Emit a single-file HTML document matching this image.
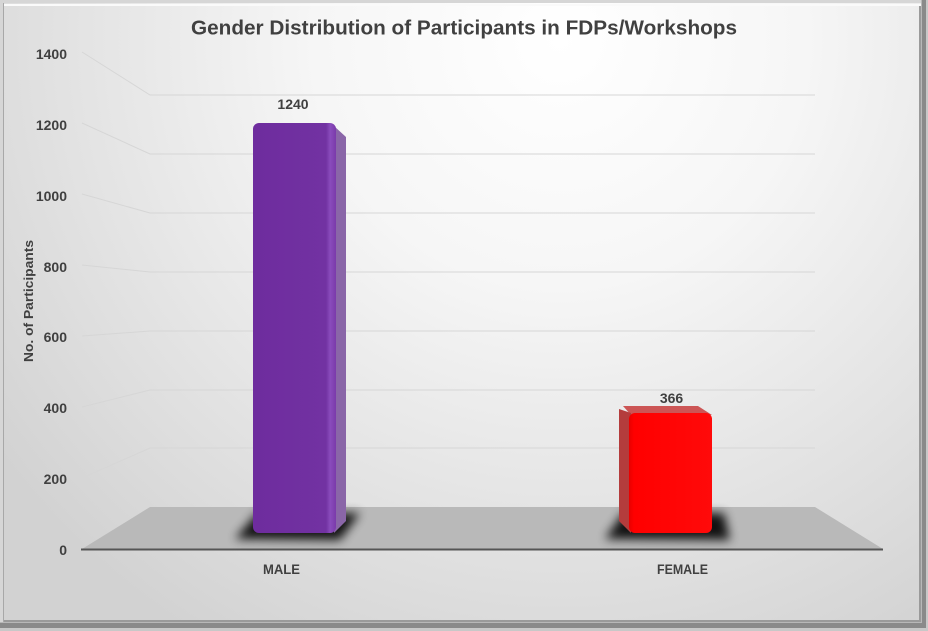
<!DOCTYPE html>
<html>
<head>
<meta charset="utf-8">
<style>
  html,body{margin:0;padding:0;background:#d8d8d8;}
  svg{display:block;}
  text{font-family:"Liberation Sans", Arial, sans-serif;fill:#404040;font-weight:bold;}
</style>
</head>
<body>
<svg width="928" height="631" viewBox="0 0 928 631" xmlns="http://www.w3.org/2000/svg">
  <defs>
    <radialGradient id="bg" cx="560" cy="40" r="700" gradientUnits="userSpaceOnUse">
      <stop offset="0" stop-color="#ffffff"/>
      <stop offset="0.35" stop-color="#f6f6f6"/>
      <stop offset="0.75" stop-color="#e0e0e0"/>
      <stop offset="1" stop-color="#d2d2d2"/>
    </radialGradient>
    <linearGradient id="purpleFront" x1="0" y1="0" x2="1" y2="0">
      <stop offset="0" stop-color="#6e2c9e"/>
      <stop offset="0.88" stop-color="#7232a2"/>
      <stop offset="0.93" stop-color="#8a4cbc"/>
      <stop offset="1" stop-color="#7a3aaa"/>
    </linearGradient>
    <linearGradient id="redFront" x1="0" y1="0" x2="1" y2="0">
      <stop offset="0" stop-color="#e80000"/>
      <stop offset="0.06" stop-color="#ff0000"/>
      <stop offset="1" stop-color="#ff0a0a"/>
    </linearGradient>
    <filter id="blur" x="-30%" y="-80%" width="160%" height="260%">
      <feGaussianBlur stdDeviation="5"/>
    </filter>
  </defs>

  <!-- frame -->
  <rect x="0" y="0" width="928" height="631" fill="#c8c8c8"/>
  <rect x="0" y="0" width="926" height="628" fill="#8a8a8a"/>
  <rect x="0" y="0" width="922" height="623" fill="#b8b8b8"/>
  <rect x="0" y="0" width="921" height="622" fill="#d6d6d6"/>
  <rect x="4" y="3" width="917" height="619" fill="url(#bg)"/>
  <rect x="3" y="3" width="1" height="619" fill="#a8a8a8"/>
  <rect x="4" y="4" width="917" height="2" fill="#fafafa"/>
  <rect x="919" y="6" width="2" height="616" fill="#9a9a9a"/>
  <rect x="4" y="620" width="917" height="2" fill="#9a9a9a"/>

  <!-- gridlines -->
  <g stroke="#d6d6d6" stroke-width="1" fill="none">
    <polyline points="82,52 150,95 815,95"/>
    <polyline points="82,123 150,154 815,154"/>
    <polyline points="82,194 150,213 815,213"/>
    <polyline points="82,265 150,272 815,272"/>
    <polyline points="82,336 150,331 815,331"/>
    <polyline points="82,407 150,390 815,390"/>
    <polyline points="82,478 150,448 815,448"/>
  </g>

  <!-- floor -->
  <polygon points="82,549 150,507 815,507 883,549" fill="#b9b9b9"/>
  <line x1="81" y1="549.5" x2="883" y2="549.5" stroke="#555555" stroke-width="2"/>

  <!-- shadows -->
  <polygon points="235,539 257,513 360,513 340,540" fill="#000" filter="url(#blur)" opacity="0.9"/>
  <polygon points="605,539 623,513 724,513 730,540" fill="#000" filter="url(#blur)" opacity="0.9"/>

  <!-- purple bar -->
  <polygon points="334,126 346,137 346,521 334,533" fill="#8a66a8"/>
  <rect x="253" y="123" width="83" height="410" rx="6" ry="6" fill="url(#purpleFront)"/>

  <!-- red bar -->
  <polygon points="623,406 698,406 712,415 631,415" fill="#cc5555"/>
  <polygon points="619,409 631,413 631,533 619,521" fill="#b43c3c"/>
  <rect x="629" y="413" width="83" height="120" rx="6" ry="6" fill="url(#redFront)"/>

  <!-- y tick labels -->
  <g font-size="14" text-anchor="end">
    <text x="67" y="59">1400</text>
    <text x="67" y="130">1200</text>
    <text x="67" y="201">1000</text>
    <text x="67" y="272">800</text>
    <text x="67" y="342">600</text>
    <text x="67" y="413">400</text>
    <text x="67" y="484">200</text>
    <text x="67" y="555">0</text>
  </g>

  <!-- data labels -->
  <text x="293" y="109" font-size="14" text-anchor="middle">1240</text>
  <text x="671.5" y="403" font-size="14" text-anchor="middle">366</text>

  <!-- category labels -->
  <text x="281.5" y="574" font-size="14" text-anchor="middle" textLength="37" lengthAdjust="spacingAndGlyphs">MALE</text>
  <text x="682.5" y="574" font-size="14" text-anchor="middle" textLength="51" lengthAdjust="spacingAndGlyphs">FEMALE</text>

  <!-- axis title -->
  <text transform="translate(33,301) rotate(-90)" font-size="13" text-anchor="middle" textLength="122" lengthAdjust="spacingAndGlyphs">No. of Participants</text>

  <!-- chart title -->
  <text x="464" y="34.5" font-size="20" text-anchor="middle" textLength="546" lengthAdjust="spacingAndGlyphs">Gender Distribution of Participants in FDPs/Workshops</text>
</svg>
</body>
</html>
